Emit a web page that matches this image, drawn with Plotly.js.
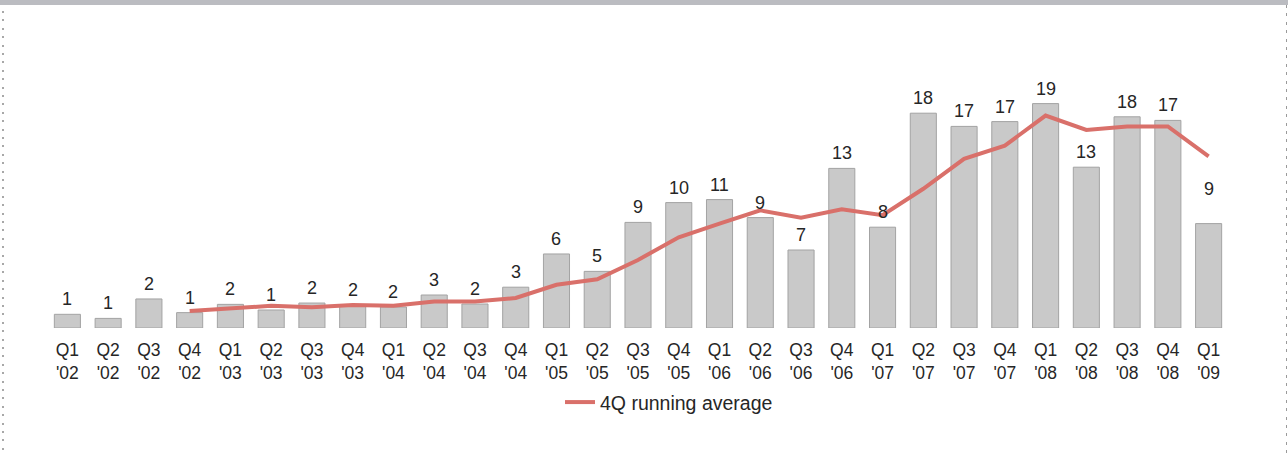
<!DOCTYPE html>
<html>
<head>
<meta charset="utf-8">
<script src="https://cdn.plot.ly/plotly-3.0.1.min.js"></script>
<style>
  html, body { margin: 0; padding: 0; background: #fff; }
  #wrap { position: relative; width: 1288px; height: 459px; overflow: hidden; }
  #chart { position: absolute; left: 0; top: 0; width: 1288px; height: 459px; }
  #topbar { position: absolute; left: 0; top: 0; width: 1288px; height: 5px; background: #bbbcc1; z-index: 2; }
  #leftdots { position: absolute; left: 2px; top: 11px; width: 2px; height: 442px; z-index: 2;
    background: repeating-linear-gradient(to bottom, #a8a8a8 0 2px, transparent 2px 8.4px); }
  #rightdots { position: absolute; left: 1286px; top: 5px; width: 1px; height: 454px; z-index: 2;
    background: repeating-linear-gradient(to bottom, #9a9a9a 0 3px, transparent 3px 8.4px); }
</style>
</head>
<body>
<div id="wrap">
  <div id="chart"></div>
  <div id="topbar"></div>
  <div id="leftdots"></div>
  <div id="rightdots"></div>
</div>
<script>
// Quarters (category order)
const categories = ["Q1 '02","Q2 '02","Q3 '02","Q4 '02","Q1 '03","Q2 '03","Q3 '03","Q4 '03",
  "Q1 '04","Q2 '04","Q3 '04","Q4 '04","Q1 '05","Q2 '05","Q3 '05","Q4 '05",
  "Q1 '06","Q2 '06","Q3 '06","Q4 '06","Q1 '07","Q2 '07","Q3 '07","Q4 '07",
  "Q1 '08","Q2 '08","Q3 '08","Q4 '08","Q1 '09"];

// Tick labels (two lines)
const tickLabels = ["Q1<br>'02","Q2<br>'02","Q3<br>'02","Q4<br>'02","Q1<br>'03","Q2<br>'03","Q3<br>'03","Q4<br>'03",
  "Q1<br>'04","Q2<br>'04","Q3<br>'04","Q4<br>'04","Q1<br>'05","Q2<br>'05","Q3<br>'05","Q4<br>'05",
  "Q1<br>'06","Q2<br>'06","Q3<br>'06","Q4<br>'06","Q1<br>'07","Q2<br>'07","Q3<br>'07","Q4<br>'07",
  "Q1<br>'08","Q2<br>'08","Q3<br>'08","Q4<br>'08","Q1<br>'09"];

// Quarterly values (bar heights)
const quarterly = [1.14, 0.8, 2.42, 1.28, 1.97, 1.5, 2.08, 1.95,
  1.75, 2.75, 2.0, 3.4, 6.17, 4.72, 8.8, 10.45,
  10.7, 9.2, 6.5, 13.3, 8.4, 17.9, 16.8, 17.2,
  18.7, 13.4, 17.6, 17.3, 8.7];

// Labels printed above the bars
const barLabels = ["1","1","2","1","2","1","2","2",
  "2","3","2","3","6","5","9","10",
  "11","9","7","13","8","18","17","17",
  "19","13","18","17","9"];

// 4Q running average
const runningAvg = [null, null, null, 1.42, 1.64, 1.85, 1.73, 1.92,
  1.86, 2.2, 2.2, 2.5, 3.6, 4.06, 5.67, 7.56,
  8.7, 9.8, 9.2, 9.9, 9.4, 11.6, 14.1, 15.2,
  17.7, 16.5, 16.8, 16.8, 14.3];

const FONT = "Liberation Sans, Arial, Helvetica, sans-serif";
const TXT = "#262626";

const traces = [
  {
    type: "bar",
    x: categories,
    y: quarterly,
    marker: { color: "#c9c9c9", line: { color: "#a3a3a3", width: 1 } },
    showlegend: false,
    hoverinfo: "skip"
  },
  {
    type: "scatter",
    mode: "lines",
    x: categories,
    y: runningAvg,
    name: "4Q running average",
    line: { color: "#d9706a", width: 4 },
    connectgaps: false,
    hoverinfo: "skip"
  }
];

// extra lift for a label placed higher in the original
const extraLift = { "Q1 '09": 20 };

const annotations = categories.map((c, i) => ({
  x: c,
  y: quarterly[i],
  xref: "x",
  yref: "y",
  text: barLabels[i],
  showarrow: false,
  yanchor: "bottom",
  yshift: 3 + (extraLift[c] || 0),
  font: { family: FONT, size: 18, color: TXT }
}));

const layout = {
  width: 1288,
  height: 459,
  margin: { l: 47, r: 59, t: 88, b: 131 },
  paper_bgcolor: "#ffffff",
  plot_bgcolor: "#ffffff",
  bargap: 0.36,
  xaxis: {
    type: "category",
    tickmode: "array",
    tickvals: categories,
    ticktext: tickLabels,
    showgrid: false,
    zeroline: false,
    showline: false,
    ticks: "outside",
    ticklen: 6,
    tickcolor: "rgba(0,0,0,0)",
    tickfont: { family: FONT, size: 17.5, color: TXT },
    fixedrange: true
  },
  yaxis: {
    range: [0, 20],
    visible: false,
    showgrid: false,
    zeroline: false,
    fixedrange: true
  },
  showlegend: true,
  legend: {
    orientation: "h",
    x: 0.434,
    xanchor: "left",
    y: -0.31,
    yanchor: "middle",
    font: { family: FONT, size: 19.5, color: TXT },
    bgcolor: "rgba(0,0,0,0)"
  },
  annotations: annotations
};

Plotly.newPlot("chart", traces, layout, { displayModeBar: false, staticPlot: true });
</script>
</body>
</html>
